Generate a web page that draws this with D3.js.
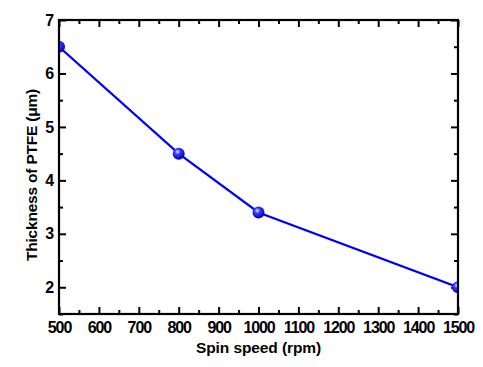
<!DOCTYPE html>
<html><head><meta charset="utf-8">
<script src="https://cdn.jsdelivr.net/npm/d3@7"></script>
<style>body{margin:0;background:#fff}</style>
</head><body>
<script>
const spinSpeed = [500, 800, 1000, 1500];
const thickness = [6.5, 4.5, 3.4, 2.0];
const xTicks = [500,600,700,800,900,1000,1100,1200,1300,1400,1500];
const yTicks = [2,3,4,5,6,7];
const xLabel = "Spin speed (rpm)";
const yLabel = "Thickness of PTFE (\u03bcm)";

const W = 483, H = 367;
const m = {l:59, r:25, t:20, b:53};
const svg = d3.select("body").append("svg").attr("width",W).attr("height",H)
  .style("font-family","'Liberation Sans', Arial, sans-serif");
const defs = svg.append("defs");
const g = defs.append("radialGradient").attr("id","ball").attr("cx","40%").attr("cy","35%").attr("r","65%");
g.append("stop").attr("offset","0%").attr("stop-color","#e8e8ff");
g.append("stop").attr("offset","35%").attr("stop-color","#3a3aff");
g.append("stop").attr("offset","100%").attr("stop-color","#0000b0");
defs.append("clipPath").attr("id","plot").append("rect")
  .attr("x",m.l).attr("y",m.t).attr("width",W-m.l-m.r).attr("height",H-m.t-m.b);

const x = d3.scaleLinear().domain([500,1500]).range([m.l, W-m.r]);
const y = d3.scaleLinear().domain([1.5,7]).range([H-m.b, m.t]);

const minorX = d3.range(550,1500,100);
const minorY = d3.range(1.5,7.01,1);

function axisStyle(sel){ sel.select(".domain").remove(); sel.selectAll("line").attr("stroke","#000").attr("stroke-width",2); }
function labelStyle(s){ s.selectAll("text").attr("font-size",16).attr("font-weight","bold").attr("fill","#000").attr("letter-spacing","-1.1px"); }

// bottom
svg.append("g").attr("transform",`translate(0,${H-m.b})`)
  .call(d3.axisBottom(x).tickValues(xTicks).tickSize(-7).tickPadding(8).tickFormat(d3.format("d")))
  .call(axisStyle).call(labelStyle);
svg.append("g").attr("transform",`translate(0,${H-m.b})`)
  .call(d3.axisBottom(x).tickValues(minorX).tickSize(-4).tickFormat(""))
  .call(axisStyle);
// top
svg.append("g").attr("transform",`translate(0,${m.t})`)
  .call(d3.axisTop(x).tickValues(xTicks).tickSize(-7).tickFormat(""))
  .call(axisStyle);
svg.append("g").attr("transform",`translate(0,${m.t})`)
  .call(d3.axisTop(x).tickValues(minorX).tickSize(-4).tickFormat(""))
  .call(axisStyle);
// left
svg.append("g").attr("transform",`translate(${m.l},0)`)
  .call(d3.axisLeft(y).tickValues(yTicks).tickSize(-7).tickPadding(6).tickFormat(d3.format("d")))
  .call(axisStyle).call(labelStyle);
svg.append("g").attr("transform",`translate(${m.l},0)`)
  .call(d3.axisLeft(y).tickValues(minorY).tickSize(-4).tickFormat(""))
  .call(axisStyle);
// right
svg.append("g").attr("transform",`translate(${W-m.r},0)`)
  .call(d3.axisRight(y).tickValues(yTicks).tickSize(-7).tickFormat(""))
  .call(axisStyle);
svg.append("g").attr("transform",`translate(${W-m.r},0)`)
  .call(d3.axisRight(y).tickValues(minorY).tickSize(-4).tickFormat(""))
  .call(axisStyle);

const data = spinSpeed.map((s,i)=>({s, t:thickness[i]}));
const plot = svg.append("g").attr("clip-path","url(#plot)");
plot.append("path").datum(data)
  .attr("d", d3.line().x(d=>x(d.s)).y(d=>y(d.t)))
  .attr("fill","none").attr("stroke","#0000ff").attr("stroke-width",2.2);
plot.append("g").selectAll("circle").data(data).join("circle")
  .attr("cx",d=>x(d.s)).attr("cy",d=>y(d.t)).attr("r",6)
  .attr("fill","url(#ball)");

// frame
svg.append("rect").attr("x",m.l).attr("y",m.t).attr("width",W-m.l-m.r).attr("height",H-m.t-m.b)
  .attr("fill","none").attr("stroke","#000").attr("stroke-width",2.2);

svg.append("text").attr("x",(m.l+W-m.r)/2).attr("y",353)
  .attr("text-anchor","middle").attr("font-size",15.5).attr("font-weight","bold").attr("letter-spacing","-0.1px").text(xLabel);
svg.append("text").attr("transform",`translate(37,175) rotate(-90)`)
  .attr("text-anchor","middle").attr("font-size",15.5).attr("font-weight","bold").attr("letter-spacing","-0.2px").text(yLabel);
</script>
</body></html>
